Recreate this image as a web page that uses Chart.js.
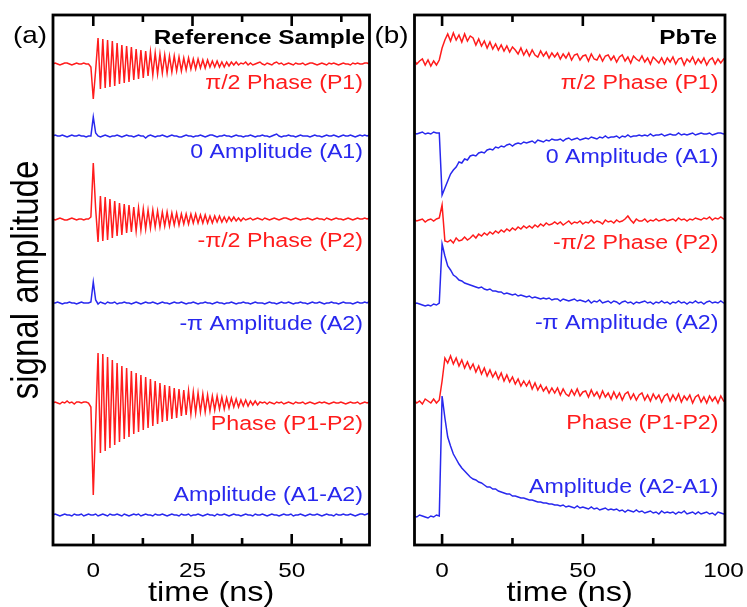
<!DOCTYPE html>
<html>
<head>
<meta charset="utf-8">
<title>Signal amplitude vs time</title>
<script src="https://cdn.jsdelivr.net/npm/chart.js"></script>
<style>
  body { margin: 0; background: #fff; }
  #wrapA { position: absolute; left: 0; top: 0; width: 372px; height: 607px; }
  #wrapB { position: absolute; left: 372px; top: 0; width: 375px; height: 607px; }
</style>
</head>
<body>
<div id="wrapA"><canvas id="panelA"></canvas></div>
<div id="wrapB"><canvas id="panelB"></canvas></div>
<script>
// ---- time grids (ns) ----
const tStartA = -10.2, tStepA = 0.6;   // reference sample, half a ringing period per step
const tStartB = -10, tStepB = 1;       // PbTe

// ---- (a) Reference Sample, values relative to each trace's baseline (a.u.) ----
const p1A = [
  0.0, 0.1, 0.0, -0.1, 0.0, 0.1, 0.1, 0.0, -0.1, 0.0, 0.1, 0.0, 0.0, 0.1, 0.0, 0.0, -0.3,
  -3.5, -0.6, 2.6,
  -2.5, 2.5, -2.4, 2.4, -2.3, 2.3, -2.2, 2.1, -2.0, 1.9,
  -1.9, 1.8, -1.8, 1.7, -1.6, 1.5, -1.5, 1.4, -1.4, 1.3,
  -1.2, 1.2, -1.1, 1.1, -1.0, 1.0, -0.9, 0.9, -0.9, 0.8,
  -0.8, 0.8, -0.7, 0.7, -0.7, 0.6, -0.6, 0.6, -0.5, 0.5,
  -0.5, 0.5, -0.4, 0.4, -0.4, 0.4, -0.3, 0.3, -0.3, 0.3,
  -0.3, 0.2, -0.3, 0.2, -0.2, 0.2, -0.1, 0.2, -0.1, 0.1,
  0.0, 0.2, -0.1, 0.1, -0.1, 0.0, 0.1, 0.2, 0.0, -0.1,
  0.1, 0.0, -0.1, 0.1, 0.2, 0.0, 0.1, -0.1, 0.0, 0.1,
  0.0, -0.1, 0.1, 0.0, 0.0, 0.1, -0.1, 0.0, 0.1, 0.1,
  0.0, -0.1, 0.0, 0.1, 0.0, -0.1, 0.1, 0.0, 0.1, 0.0,
  -0.1, 0.0, 0.1, 0.0, 0.0, -0.1, 0.1, 0.0, 0.1, 0.0,
  0.0, 0.1, 0.1, 0.0
];
const a1A = [
  0.0, 0.1, 0.0, 0.0, 0.1, 0.0, -0.1, 0.0, 0.1, 0.0, 0.0, 0.1, 0.0, 0.0, -0.1, 0.0, 0.0,
  1.9, 0.3, 0.0,
  -0.1, 0.0, 0.1, 0.0, -0.1, 0.0, 0.0, 0.1, 0.0, -0.1,
  0.0, 0.1, 0.0, 0.0, -0.1, 0.0, 0.1, 0.0, 0.0, -0.2,
  0.0, 0.1, 0.0, -0.1, 0.0, 0.0, 0.1, 0.0, -0.1, 0.0,
  0.1, 0.0, 0.0, -0.1, -0.1, 0.0, 0.1, 0.0, 0.0, -0.1,
  0.0, 0.0, 0.1, 0.0, -0.1, 0.0, 0.1, 0.1, 0.0, -0.1,
  0.0, 0.0, 0.1, 0.0, 0.0, -0.1, 0.0, 0.1, 0.0, 0.0,
  -0.1, 0.0, 0.0, 0.1, 0.0, -0.1, 0.0, 0.0, 0.1, 0.0,
  0.0, -0.1, 0.0, 0.1, 0.2, 0.0, -0.1, 0.0, 0.0, 0.1,
  0.0, 0.0, -0.1, 0.0, 0.1, 0.0, 0.0, 0.0, -0.1, 0.0,
  0.1, 0.0, 0.0, -0.1, 0.0, 0.1, 0.0, 0.0, 0.1, 0.0,
  -0.1, 0.0, 0.1, 0.0, 0.0, 0.1, 0.0, -0.1, 0.0, 0.1,
  0.0, 0.1, 0.0, 0.1
];
const p2A = [
  0.0, -0.1, 0.0, 0.1, 0.0, -0.1, -0.1, 0.0, 0.1, 0.0, -0.1, 0.0, 0.0, -0.1, 0.0, 0.0, 0.2,
  5.6, 1.0, -2.3,
  2.3, -2.2, 2.2, -2.1, 2.0, -1.9, 1.8, -1.7, 1.6, -1.6,
  1.5, -1.4, 1.4, -1.3, 1.2, -1.2, 1.1, -1.1, 1.0, -1.0,
  0.9, -0.9, 0.9, -0.8, 0.8, -0.8, 0.7, -0.7, 0.7, -0.7,
  0.6, -0.6, 0.6, -0.6, 0.5, -0.5, 0.5, -0.5, 0.5, -0.4,
  0.5, -0.4, 0.4, -0.4, 0.4, -0.4, 0.3, -0.4, 0.3, -0.3,
  0.3, -0.3, 0.2, -0.3, 0.2, -0.2, 0.2, -0.2, 0.1, -0.2,
  0.1, -0.1, 0.0, 0.1, -0.1, 0.0, 0.1, 0.0, -0.1, 0.1,
  0.0, -0.1, 0.0, 0.1, 0.0, -0.1, 0.0, 0.1, 0.1, 0.0,
  -0.1, 0.0, 0.1, 0.0, -0.1, 0.0, 0.0, 0.1, 0.0, -0.1,
  0.0, 0.1, 0.0, 0.0, -0.1, 0.1, 0.0, -0.1, 0.0, 0.1,
  0.0, 0.0, -0.1, 0.0, 0.1, 0.0, -0.1, 0.0, 0.1, 0.0,
  0.0, 0.1, 0.0, 0.1
];
const a2A = [
  0.0, 0.0, 0.1, 0.0, -0.1, 0.0, 0.0, 0.1, 0.0, 0.0, -0.1, 0.0, 0.1, 0.0, 0.0, 0.0, 0.1,
  2.1, 0.3, -0.1,
  0.1, 0.0, -0.1, 0.1, 0.0, 0.0, 0.1, -0.1, 0.0, 0.0,
  0.1, 0.0, 0.0, -0.1, 0.0, 0.1, 0.0, -0.1, 0.0, 0.1,
  0.0, 0.0, 0.1, 0.0, -0.1, 0.0, 0.1, 0.0, 0.0, -0.1,
  0.0, 0.1, 0.0, 0.0, 0.1, 0.0, -0.1, 0.0, 0.0, 0.1,
  0.0, -0.1, 0.0, 0.0, 0.1, 0.0, 0.0, -0.1, 0.0, 0.1,
  0.0, 0.0, -0.1, 0.0, 0.0, 0.1, 0.0, -0.1, 0.0, 0.0,
  0.1, 0.0, 0.0, -0.1, 0.0, 0.1, 0.0, 0.0, 0.0, -0.1,
  0.0, 0.1, 0.0, 0.0, -0.1, 0.0, 0.1, 0.0, 0.0, 0.1,
  0.0, -0.1, 0.0, 0.0, 0.1, 0.0, 0.0, -0.1, 0.0, 0.1,
  0.0, 0.0, 0.1, 0.0, -0.1, 0.0, 0.0, 0.1, 0.0, 0.0,
  -0.1, 0.0, 0.1, 0.0, 0.0, 0.0, -0.1, 0.0, 0.1, 0.0,
  0.0, 0.1, 0.0, 0.2
];
const p1mp2A = [
  0.0, 0.1, 0.0, -0.1, 0.1, 0.0, 0.2, 0.0, 0.1, -0.1, 0.1, 0.1, 0.0, 0.1, 0.1, 0.0, -0.4,
  -9.2, -2.0, 5.0,
  -5.0, 4.9, -4.8, 4.6, -4.5, 4.3, -4.2, 4.0, -3.9, 3.7,
  -3.6, 3.5, -3.4, 3.2, -3.1, 3.0, -2.9, 2.8, -2.7, 2.6,
  -2.5, 2.4, -2.3, 2.2, -2.1, 2.0, -1.9, 1.8, -1.8, 1.7,
  -1.6, 1.5, -1.5, 1.4, -1.3, 1.3, -1.2, 1.2, -1.1, 1.1,
  -1.0, 1.0, -0.9, 0.9, -0.9, 0.8, -0.8, 0.7, -0.7, 0.7,
  -0.6, 0.6, -0.6, 0.5, -0.5, 0.5, -0.4, 0.4, -0.4, 0.3,
  -0.3, 0.3, -0.3, 0.2, -0.2, 0.2, -0.2, 0.1, 0.0, 0.1,
  -0.1, 0.1, 0.0, -0.1, 0.1, 0.0, 0.1, -0.1, 0.0, 0.1,
  0.0, -0.1, 0.1, 0.0, 0.0, 0.1, -0.1, 0.0, 0.1, 0.0,
  -0.1, 0.0, 0.1, 0.0, 0.1, 0.0, -0.1, 0.0, 0.1, 0.0,
  0.0, 0.1, 0.0, -0.1, 0.0, 0.1, 0.0, 0.0, 0.1, -0.1,
  0.0, 0.1, 0.0, 0.1
];
const a1ma2A = [
  0.0, 0.1, 0.0, -0.1, 0.0, 0.1, 0.0, 0.0, -0.1, 0.1,
  0.0, 0.0, 0.1, -0.1, 0.0, 0.1, 0.0, 0.0, 0.1, -0.1,
  0.0, 0.1, 0.0, -0.1, 0.1, 0.0, 0.0, 0.1, 0.0, -0.1,
  0.1, 0.0, -0.1, 0.0, 0.1, 0.0, 0.1, -0.1, 0.0, 0.1,
  0.0, 0.0, -0.1, 0.1, 0.0, 0.0, 0.1, 0.0, -0.1, 0.0,
  0.1, 0.0, 0.0, -0.1, 0.1, 0.0, 0.0, 0.1, -0.1, 0.0,
  0.0, 0.1, 0.0, -0.1, 0.0, 0.1, 0.0, 0.0, -0.1, 0.1,
  0.0, 0.0, 0.1, 0.0, -0.1, 0.0, 0.1, 0.0, 0.0, -0.1,
  0.0, 0.1, 0.0, 0.0, -0.1, 0.1, 0.0, 0.0, 0.1, 0.0,
  -0.1, 0.0, 0.1, 0.0, 0.0, -0.1, 0.0, 0.1, 0.0, 0.0,
  0.1, -0.1, 0.0, 0.0, 0.1, 0.0, -0.1, 0.0, 0.1, 0.0,
  0.0, 0.1, 0.0, -0.1, 0.0, 0.1, 0.0, 0.0, -0.1, 0.1,
  0.0, 0.0, 0.1, 0.0, 0.0, 0.1, 0.0, -0.1, 0.0, 0.1,
  0.1, 0.0, 0.1, 0.2
];

// ---- (b) PbTe, values relative to baseline (a.u.), one point per ns ----
const p1B = [
  0.2, -0.2, 0.1, 0.3, -0.3, 0.2, -0.4, 0.1, -0.3, 0.2,
  1.4,
  2.2, 2.8, 2.1, 2.9, 2.2, 2.7, 2.0, 2.8, 2.1, 2.6,
  2.4, 1.7, 2.3, 1.6, 2.1, 1.4, 2.0, 1.3, 1.8, 1.2,
  1.7, 1.1, 1.6, 1.0, 1.5, 1.2, 0.8, 1.4, 0.7, 1.2,
  0.6, 1.2, 0.7, 0.5, 1.1, 0.6, 1.0, 0.4, 0.9, 0.5,
  0.9, 0.3, 0.8, 0.4, 0.9, 0.2, 0.7, 0.8, 0.2, 0.6,
  0.7, 0.1, 0.8, 0.3, 0.2, 0.7, 0.1, 0.6, 0.7, 0.2,
  0.6, 0.0, 0.5, 0.7, 0.1, 0.5, -0.1, 0.6, 0.3, 0.1,
  0.6, 0.0, 0.4, -0.2, 0.5, 0.2, -0.1, 0.4, -0.2, 0.4,
  0.0, 0.5, -0.2, 0.3, 0.4, -0.3, 0.3, 0.0, 0.5, -0.2,
  0.3, -0.1, 0.4, -0.3, 0.2, 0.4, -0.2, 0.3, -0.1, 0.3, 0.1
];
const a1B = [
  0.1, 0.0, 0.1, 0.2, 0.0, 0.1, 0.0, 0.2, 0.1, 0.1,
  -6.1,
  -5.4, -4.7, -4.0, -3.6, -3.3, -2.8, -2.9, -2.5, -2.6, -2.2,
  -2.1, -2.2, -1.9, -1.8, -1.9, -1.6, -1.5, -1.6, -1.3, -1.4,
  -1.2, -1.3, -1.1, -1.0, -1.2, -1.0, -0.9, -1.0, -0.8, -0.9,
  -0.8, -0.7, -0.9, -0.6, -0.7, -0.8, -0.6, -0.7, -0.5, -0.6,
  -0.6, -0.5, -0.7, -0.5, -0.4, -0.6, -0.5, -0.4, -0.6, -0.5,
  -0.4, -0.5, -0.3, -0.4, -0.5, -0.3, -0.4, -0.2, -0.4, -0.3,
  -0.3, -0.2, -0.4, -0.2, -0.3, -0.1, -0.3, -0.2, -0.2, -0.1,
  -0.2, -0.1, -0.2, 0.0, -0.2, -0.1, -0.1, 0.0, -0.2, -0.1,
  0.0, -0.1, -0.1, 0.1, -0.1, 0.0, -0.1, 0.0, 0.1, -0.1,
  0.0, 0.1, 0.0, 0.0, 0.1, -0.1, 0.0, 0.1, 0.1, 0.0, 0.1
];
const p2B = [
  0.1, -0.1, 0.0, 0.1, -0.2, 0.0, 0.1, -0.1, 0.1, 0.2,
  1.5,
  -2.1, -2.2, -2.0, -2.3, -1.8, -2.1, -2.0, -1.7, -2.0, -1.8,
  -1.5, -1.8, -1.4, -1.6, -1.3, -1.5, -1.2, -1.4, -1.1, -1.3,
  -1.0, -1.2, -0.9, -1.1, -0.8, -1.0, -0.7, -0.9, -0.6, -0.8,
  -0.6, -0.8, -0.5, -0.7, -0.4, -0.6, -0.3, -0.5, -0.4, -0.2,
  -0.4, -0.2, -0.5, -0.3, -0.1, -0.4, -0.2, -0.3, -0.1, -0.4,
  -0.2, -0.3, 0.0, -0.3, -0.1, -0.2, -0.4, 0.0, -0.2, -0.1,
  -0.3, 0.0, -0.2, -0.1, 0.1, 0.4, 0.0, -0.3, 0.1, -0.1,
  -0.1, 0.1, -0.2, 0.0, -0.1, 0.1, -0.1, 0.0, 0.1, -0.1,
  0.0, 0.1, -0.1, 0.2, 0.0, 0.1, -0.1, 0.1, 0.0, 0.2,
  0.1, 0.0, 0.2, 0.1, 0.3, 0.0, 0.2, 0.1, 0.3, 0.1, 0.2
];
const a2B = [
  0.0, 0.1, 0.0, -0.1, -0.2, -0.1, -0.2, 0.0, -0.1, 0.1,
  6.0,
  4.8, 3.8, 3.4, 2.9, 2.7, 2.4, 2.3, 2.1, 2.0, 1.9,
  1.8, 1.7, 1.6, 1.7, 1.5, 1.4, 1.5, 1.3, 1.3, 1.2,
  1.2, 1.0, 1.1, 1.0, 0.9, 1.0, 0.8, 0.9, 0.8, 0.7,
  0.8, 0.6, 0.7, 0.6, 0.5, 0.6, 0.5, 0.6, 0.4, 0.5,
  0.5, 0.3, 0.5, 0.4, 0.3, 0.4, 0.5, 0.3, 0.4, 0.3,
  0.2, 0.4, 0.1, 0.3, 0.2, 0.4, 0.1, 0.2, 0.3, 0.1,
  0.3, 0.2, 0.0, 0.2, 0.3, 0.1, 0.2, 0.0, 0.2, 0.1,
  0.2, 0.3, 0.1, 0.2, 0.0, 0.2, 0.1, 0.3, 0.1, 0.2,
  0.0, 0.2, 0.1, 0.3, 0.1, 0.2, 0.0, 0.2, 0.1, 0.3,
  0.1, 0.2, 0.0, 0.2, 0.3, 0.1, 0.2, 0.1, 0.3, 0.1, 0.2
];
const p1mp2B = [
  0.1, -0.2, 0.0, -0.3, 0.2, 0.0, -0.2, 0.2, -0.2, 0.1,
  2.0,
  4.3, 3.8, 4.5, 3.7, 4.3, 3.5, 4.1, 3.3, 3.9, 3.2,
  3.7, 2.9, 3.5, 2.7, 3.3, 2.5, 3.1, 2.4, 2.9, 2.2,
  2.8, 2.0, 2.6, 1.9, 2.4, 1.7, 2.2, 1.5, 2.0, 1.5,
  2.0, 1.2, 1.8, 1.1, 1.6, 1.0, 1.4, 0.8, 1.3, 0.8,
  1.3, 0.6, 1.2, 0.7, 0.5, 1.1, 0.6, 1.2, 0.5, 0.9,
  1.0, 0.4, 1.1, 0.5, 0.9, 0.3, 1.0, 0.4, 0.8, 0.2,
  0.9, 0.3, 0.8, 0.1, 0.7, 0.9, 0.2, 0.7, 0.1, 0.6,
  0.8, 0.1, 0.6, 0.0, 0.7, 0.2, 0.6, -0.1, 0.5, 0.7,
  0.0, 0.6, 0.1, 0.7, -0.1, 0.5, 0.1, 0.6, -0.2, 0.4,
  0.6, -0.1, 0.4, -0.2, 0.5, 0.0, 0.4, -0.2, 0.5, 0.0, 0.2
];
const a2ma1B = [
  0.0, -0.1, 0.1, 0.0, -0.1, -0.2, 0.0, -0.1, 0.1, 0.0,
  12.0,
  9.8, 7.9, 7.0, 6.2, 5.7, 5.2, 4.8, 4.5, 4.2, 3.9,
  3.7, 3.6, 3.4, 3.3, 3.1, 2.9, 2.9, 2.7, 2.7, 2.5,
  2.4, 2.3, 2.2, 2.2, 2.0, 2.0, 1.9, 1.8, 1.8, 1.7,
  1.6, 1.6, 1.5, 1.4, 1.4, 1.3, 1.3, 1.2, 1.2, 1.1,
  1.1, 1.0, 1.1, 0.9, 1.0, 0.9, 0.8, 1.0, 0.8, 0.9,
  0.8, 0.7, 0.9, 0.7, 0.8, 0.6, 0.7, 0.8, 0.6, 0.7,
  0.6, 0.7, 0.5, 0.6, 0.4, 0.6, 0.5, 0.4, 0.6, 0.4,
  0.5, 0.3, 0.4, 0.5, 0.3, 0.4, 0.2, 0.5, 0.3, 0.4,
  0.3, 0.4, 0.2, 0.4, 0.3, 0.5, 0.2, 0.3, 0.4, 0.2,
  0.4, 0.2, 0.3, 0.4, 0.2, 0.3, 0.1, 0.4, 0.3, 0.2, 0.3
];

// ---- trace names and vertical offsets ----
const namesA = ['\u03c0/2 Phase (P1)', '0 Amplitude (A1)', '-\u03c0/2 Phase (P2)', '-\u03c0 Amplitude (A2)', 'Phase (P1-P2)', 'Amplitude (A1-A2)'];
const namesB = ['\u03c0/2 Phase (P1)', '0 Amplitude (A1)', '-\u03c0/2 Phase (P2)', '-\u03c0 Amplitude (A2)', 'Phase (P1-P2)', 'Amplitude (A2-A1)'];
const offsetsA = [48.1, 40.9, 32.6, 24.2, 14.2, 3.0];
const offsetsB = [48.3, 41.1, 32.5, 24.1, 14.4, 2.9];
const labelYA = [45.6, 38.7, 29.8, 21.5, 11.5, 4.4];
const labelYB = [45.6, 38.2, 29.6, 21.6, 11.6, 5.2];

// ---- axis ticks ----
const majorA = [0, 25, 50], minorA = [12.5, 37.5, 62.5];
const majorB = [0, 50, 100], minorB = [25, 75];

const RED = 'rgb(255,28,28)', BLUE = 'rgb(40,40,238)';
const colors = [RED, BLUE, RED, BLUE, RED, BLUE];
const FONT = "'Liberation Sans', Arial, sans-serif";
const STRETCH = 1.16;

function toPoints(vals, t0, dt, off) {
  return vals.map((v, i) => ({ x: +(t0 + i * dt).toFixed(2), y: off + v }));
}

function text(ctx, s, x, y, font, color, align, rotate) {
  ctx.save();
  ctx.translate(x, y);
  ctx.scale(STRETCH, 1);
  if (rotate) ctx.rotate(-Math.PI / 2);
  ctx.font = font;
  ctx.fillStyle = color;
  ctx.textAlign = align;
  ctx.textBaseline = 'alphabetic';
  ctx.fillText(s, 0, 0);
  ctx.restore();
}

// frame, inward ticks and all the texts
const decor = {
  id: 'decor',
  afterDatasetsDraw(chart, args, o) {
    const ctx = chart.ctx, a = chart.chartArea;
    const xs = chart.scales.x, ys = chart.scales.y;
    ctx.save();
    ctx.strokeStyle = '#000';
    ctx.lineWidth = 2.8;
    ctx.strokeRect(a.left, a.top, a.right - a.left, a.bottom - a.top);
    ctx.lineWidth = 2.6;
    const tick = (v, len) => {
      const px = xs.getPixelForValue(v);
      if (px > a.right - 2) return;
      ctx.beginPath();
      ctx.moveTo(px, a.bottom); ctx.lineTo(px, a.bottom - len);
      ctx.moveTo(px, a.top); ctx.lineTo(px, a.top + len);
      ctx.stroke();
    };
    o.major.forEach(v => tick(v, 11));
    o.minor.forEach(v => tick(v, 7));
    o.major.forEach(v => text(ctx, String(v), xs.getPixelForValue(v), a.bottom + 32, '21px ' + FONT, '#000', 'center'));
    text(ctx, 'time (ns)', (a.left + a.right) / 2, a.bottom + 56, '28px ' + FONT, '#000', 'center');
    text(ctx, o.letter, a.left - 40, a.top + 28, '24px ' + FONT, '#000', 'left');
    text(ctx, o.title, a.right - o.titleInset, a.top + 29, 'bold 21px ' + FONT, '#000', 'right');
    o.names.forEach((n, i) => text(ctx, n, a.right - 6.5, ys.getPixelForValue(o.labelY[i]), '20px ' + FONT, o.colors[i], 'right'));
    if (o.yTitle) {
      text(ctx, o.yTitle, a.left - 15, (a.top + a.bottom) / 2, '33px ' + FONT, '#000', 'center', true);
    }
    ctx.restore();
  }
};

function makeChart(id, series, t0, dt, offsets, xMin, xMax, pad, deco) {
  new Chart(document.getElementById(id), {
    type: 'line',
    data: {
      datasets: series.map((vals, i) => ({
        data: toPoints(vals, t0, dt, offsets[i]),
        borderColor: colors[i],
        borderWidth: 1.5,
        pointRadius: 0,
        tension: 0,
        fill: false
      }))
    },
    options: {
      responsive: true,
      maintainAspectRatio: false,
      animation: false,
      layout: { padding: pad },
      scales: {
        x: { type: 'linear', min: xMin, max: xMax, display: false },
        y: { type: 'linear', min: 0, max: 53.0, display: false }
      },
      plugins: { legend: { display: false }, tooltip: { enabled: false }, decor: deco }
    },
    plugins: [decor]
  });
}

makeChart('panelA', [p1A, a1A, p2A, a2A, p1mp2A, a1ma2A], tStartA, tStepA, offsetsA,
  -10.15, 69.6, { left: 53, right: 2.5, top: 15, bottom: 62 },
  { letter: '(a)', title: 'Reference Sample', titleInset: 4.5, names: namesA, labelY: labelYA,
    colors: colors, major: majorA, minor: minorA, yTitle: 'signal amplitude' });

makeChart('panelB', [p1B, a1B, p2B, a2B, p1mp2B, a2ma1B], tStartB, tStepB, offsetsB,
  -9.8, 100.5, { left: 42.5, right: 22, top: 15, bottom: 62 },
  { letter: '(b)', title: 'PbTe', titleInset: 8, names: namesB, labelY: labelYB,
    colors: colors, major: majorB, minor: minorB, yTitle: '' });
</script>
</body>
</html>
